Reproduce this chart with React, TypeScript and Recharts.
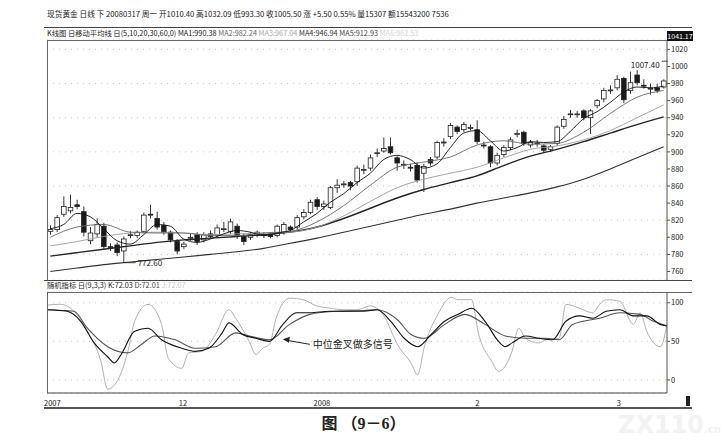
import { Bar, CartesianGrid, ComposedChart, Line, ReferenceDot, XAxis, YAxis } from 'recharts';

// daily candles (index 0 = first bar on the left)
const OPEN = [
  807, 809, 827, 831, 838, 830, 796, 804, 813, 789, 791, 784, 802.5, 802, 807, 827, 822, 814, 806, 795,
  789, 799, 803, 797, 804, 803, 809, 807, 813, 801, 800, 802, 802, 804, 802, 806, 812, 812, 824, 829,
  844, 836, 835, 858, 862, 864, 865, 879, 881, 898, 901, 906, 893, 885, 882, 884, 875, 891, 894, 911,
  918, 929, 926, 928, 926, 908, 906, 887, 897, 905, 921, 923, 908, 910, 907, 903, 910, 930, 944, 944,
  948, 940, 954, 962, 972, 975, 986, 972, 990, 978, 974, 975, 976,
];
const HIGH = [
  814, 826, 848, 850, 844, 836, 812, 822, 817, 793, 794, 801, 807, 808, 829, 838, 830, 818, 808, 798,
  795, 804, 806, 806, 808, 815, 818, 822, 816, 804, 806, 808, 806, 806, 815, 818, 814, 826, 833, 844,
  847, 843, 860, 868, 866, 866, 884, 885, 897, 904, 917, 917, 895, 890, 886, 888, 886, 894, 913, 916,
  934, 931, 935, 932, 937, 912, 908, 899, 908, 917, 926, 925, 914, 914, 909, 908, 931, 942, 949, 948,
  950, 950, 962, 975, 978, 990, 988, 994, 996, 985, 980, 980, 985,
];
const LOW = [
  803, 806, 824, 828, 833, 801, 792, 800, 786, 784, 778, 772.6, 799, 799, 805, 822, 809, 803, 794, 780,
  786, 796, 791, 794, 799, 800, 806, 804, 798, 791, 797, 800, 799, 799, 800, 803, 806, 809, 821, 827,
  832, 832, 833, 852, 858, 855, 860, 874, 878, 894, 899, 897, 878, 880, 877, 864, 853, 884, 891, 906,
  915, 921, 923, 925, 909, 904, 882, 884, 894, 902, 917, 907, 905, 906, 899, 900, 907, 927, 940, 940,
  937, 921, 951, 958, 968, 972, 957, 968, 978, 974, 967, 969, 974,
];
const CLOSE = [
  809, 823, 836, 835, 836, 806, 805, 815, 789, 788, 782, 798, 803, 806, 826, 826, 812, 806, 797, 784,
  792, 800, 795, 803, 801, 811, 810, 818, 802, 795, 803, 806, 803, 801, 813, 815, 809, 823, 829, 841,
  836, 839, 858, 861, 862.5, 860, 881, 879.5, 893, 899, 904, 899, 887, 885.5, 881, 867, 883, 887, 911, 911.5,
  931, 924, 932, 928.5, 912, 907, 887, 896, 905, 914, 921.5, 910, 911, 910.5, 902, 906, 929, 938, 944.5, 944.5,
  940, 948, 960, 972, 972.5, 985, 961, 981, 981, 977, 974.5, 972, 983,
];

// moving averages, read at sampled bars: [bar index, value]
const MA5_PTS = [
  [0, 810], [2, 815], [4, 828], [6, 824], [8, 810], [10, 796], [12, 792], [14, 803], [16, 815], [18, 813],
  [20, 798], [22, 794], [24, 798], [26, 804], [28, 808], [30, 806], [32, 802], [34, 805], [36, 808], [38, 818],
  [40, 828], [42, 841], [44, 851], [46, 864], [48, 875], [50, 891], [52, 896], [54, 891], [56, 881], [58, 886],
  [60, 905], [62, 922], [64, 925], [66, 913], [68, 901], [70, 905], [72, 912], [74, 911], [76, 912], [78, 924],
  [80, 939], [82, 947], [84, 958], [86, 970], [88, 976], [90, 975], [92, 977],
];
const MA10_PTS = [
  [0, 800], [4, 812], [8, 815], [12, 806], [16, 805], [20, 805], [24, 802], [28, 802], [32, 805], [36, 807],
  [40, 818], [44, 837], [48, 861], [52, 882], [56, 888], [60, 894], [64, 908], [68, 913], [72, 909], [76, 910],
  [80, 923], [84, 945], [88, 964], [92, 972],
];
const MA20_PTS = [
  [0, 790], [4, 795], [8, 801], [12, 805], [16, 806], [20, 805], [24, 803], [28, 804], [32, 805], [36, 806],
  [40, 812], [44, 825], [48, 842], [52, 858], [56, 868], [60, 875], [64, 882], [68, 893], [72, 903], [76, 907],
  [80, 914], [84, 925], [88, 940], [92, 955],
];
const MA30_PTS = [
  [0, 778], [4, 782], [8, 786], [12, 790], [16, 794], [20, 797], [24, 799], [28, 801], [32, 803], [36, 806],
  [40, 812], [44, 822], [48, 834], [52, 846], [56, 856], [60, 864], [64, 872], [68, 884], [72, 895], [76, 903],
  [80, 912], [84, 922], [88, 932], [92, 941],
];
const MA60_PTS = [
  [0, 760], [4, 764], [8, 768], [12, 771], [16, 774], [20, 777], [24, 780], [28, 783], [32, 787], [36, 793],
  [40, 799], [44, 806], [48, 813], [52, 820], [56, 827], [60, 833], [64, 840], [68, 846], [72, 852], [76, 859],
  [80, 868], [84, 880], [88, 893], [92, 906],
];

// stochastic (9,3,3)
const K_PTS = [
  [0, 91], [3, 89], [5, 76], [7, 48], [9, 30], [10, 22], [11, 33], [13, 63], [15, 67], [17, 52],
  [20, 41], [22, 37], [24, 41], [26, 61], [27, 74], [29, 59], [31, 54], [33, 50], [35, 72], [37, 87],
  [39, 87], [42, 89], [45, 89], [47, 89], [49, 91], [51, 76], [53, 54], [55, 43], [57, 59], [59, 76],
  [61, 85], [63, 93], [65, 76], [67, 50], [68, 43], [69, 48], [71, 57], [73, 54], [75, 52], [77, 76],
  [79, 83], [81, 80], [83, 89], [85, 91], [87, 83], [89, 83], [91, 72], [92, 70],
];
const D_PTS = [
  [0, 91], [4, 89], [6, 67], [9, 43], [12, 35], [14, 46], [16, 57], [19, 52], [22, 41], [25, 43],
  [28, 61], [30, 57], [33, 52], [36, 72], [39, 85], [43, 89], [47, 90], [49, 91], [52, 78], [54, 59],
  [56, 54], [59, 72], [62, 85], [65, 72], [68, 57], [71, 54], [74, 54], [76, 52], [78, 72], [82, 80],
  [85, 87], [88, 85], [90, 76], [92, 70],
];
const J_PTS = [
  [0, 97], [2, 98], [4, 89], [6, 63], [8, 24], [9, -12], [10, -7], [12, 37], [13, 76], [15, 98],
  [17, 72], [18, 28], [20, 15], [21, 35], [23, 37], [25, 59], [27, 91], [28, 80], [30, 50], [31, 33],
  [32, 41], [33, 46], [34, 80], [36, 106], [38, 104], [40, 96], [42, 93], [44, 91], [46, 91], [48, 96],
  [50, 83], [52, 46], [54, 22], [55, 7], [56, 43], [58, 85], [60, 107], [61, 104], [63, 104], [64, 61],
  [66, 24], [67, 11], [69, 37], [70, 67], [71, 54], [73, 48], [74, 52], [76, 54], [77, 98], [79, 93],
  [81, 87], [82, 98], [83, 104], [85, 102], [87, 72], [88, 87], [89, 63], [91, 43], [92, 72],
];

const TICK_IDX = [0, 20, 40, 64, 85];
const TICK_LABELS = ['2007', '12', '2008', '2', '3'];
const PRICE_TICKS = [760, 780, 800, 820, 840, 860, 880, 900, 920, 940, 960, 980, 1000, 1020];
const KDJ_TICKS = [0, 50, 100];

const FONT = '"Noto Sans CJK SC", "Noto Sans", sans-serif';

function sparse(points: number[][]) {
  const lookup = new Map(points.map(([i, v]) => [i, v]));
  return CLOSE.map((_, i) => (lookup.has(i) ? lookup.get(i) : null));
}

const ma5 = sparse(MA5_PTS);
const ma10 = sparse(MA10_PTS);
const ma20 = sparse(MA20_PTS);
const ma30 = sparse(MA30_PTS);
const ma60 = sparse(MA60_PTS);
const kLine = sparse(K_PTS);
const dLine = sparse(D_PTS);
const jLine = sparse(J_PTS);

const rows = CLOSE.map((close, i) => ({
  i,
  open: OPEN[i],
  high: HIGH[i],
  low: LOW[i],
  close,
  range: [LOW[i], HIGH[i]],
  ma5: ma5[i],
  ma10: ma10[i],
  ma20: ma20[i],
  ma30: ma30[i],
  ma60: ma60[i],
  k: kLine[i],
  d: dLine[i],
  j: jLine[i],
}));

const Candle = (props: any) => {
  const { x, y, width, height, payload } = props;
  if (!payload) return <g />;
  const { open, close, high, low } = payload;
  const top = Math.min(y, y + height);
  const h = Math.abs(height);
  const ppu = high === low ? 0 : h / (high - low);
  const cx = x + width / 2;
  const yOf = (v: number) => top + (high - v) * ppu;
  const bodyTop = yOf(Math.max(open, close));
  const bodyBottom = yOf(Math.min(open, close));
  const up = close >= open;
  const bw = 4.6;
  return (
    <g>
      <line x1={cx} x2={cx} y1={top} y2={top + h} stroke="#222" strokeWidth={0.9} />
      <rect
        x={cx - bw / 2}
        y={bodyTop}
        width={bw}
        height={Math.max(bodyBottom - bodyTop, 0.9)}
        fill={up ? '#fff' : '#1a1a1a'}
        stroke="#222"
        strokeWidth={0.8}
      />
    </g>
  );
};

const DateTick = (props: any) => {
  const { x, y, payload } = props;
  const k = TICK_IDX.indexOf(Number(payload.value));
  if (k < 0) return <g />;
  return (
    <text x={x - 3} y={y + 5} fontSize={7.5} fill="#222" textAnchor="start" fontFamily={FONT}>
      {TICK_LABELS[k]}
    </text>
  );
};

const LowLabel = (props: any) => {
  const { cx, cy } = props;
  return (
    <g>
      <path d={`M${cx},${cy} V${cy + 2} H${cx + 12}`} stroke="#222" strokeWidth={0.8} fill="none" />
      <text x={cx + 14} y={cy + 5} fontSize={8} fill="#222" fontFamily={FONT}>
        772.60
      </text>
    </g>
  );
};

const HighLabel = (props: any) => {
  const { cx, cy } = props;
  return (
    <g>
      <line x1={cx - 2} x2={cx + 4} y1={cy + 1} y2={cy + 1} stroke="#222" strokeWidth={0.8} />
      <text x={cx - 4} y={cy + 8} fontSize={8} fill="#222" textAnchor="end" fontFamily={FONT}>
        1007.40
      </text>
    </g>
  );
};

const CrossNote = (props: any) => {
  const { cx, cy } = props;
  return (
    <g>
      <line x1={cx + 4} y1={cy - 1} x2={cx + 27} y2={cy + 3} stroke="#222" strokeWidth={1} />
      <path d={`M${cx},${cy - 2} L${cx + 7},${cy - 4.5} L${cx + 6},${cy + 1.5} Z`} fill="#222" />
      <text x={cx + 30} y={cy + 7} fontSize={10} fill="#222" fontFamily={FONT}>
        中位金叉做多信号
      </text>
    </g>
  );
};

const hLine = (top: number, left: number, width: number, color = '#555', h = 1) => (
  <div style={{ position: 'absolute', top, left, width, height: h, background: color }} />
);

export default function App() {
  return (
    <div
      style={{
        position: 'relative',
        width: 727,
        height: 444,
        background: '#fff',
        overflow: 'hidden',
        fontFamily: FONT,
        color: '#222',
      }}
    >
      <style>{'body{margin:0}'}</style>

      <div style={{ position: 'absolute', top: 10, left: 47, fontSize: 7.7, whiteSpace: 'nowrap', lineHeight: 1 }}>
        现货黄金 日线 下 20080317 周一 开1010.40 高1032.09 低993.30 收1005.50 涨 +5.50 0.55% 量15307 额15543200 7536
      </div>

      {hLine(27, 44, 648, '#444', 1)}
      <div style={{ position: 'absolute', top: 30, left: 47, fontSize: 7.3, whiteSpace: 'nowrap', lineHeight: 1 }}>
        <span>K线图 日移动平均线 日(5,10,20,30,60,0) </span>
        <span>MA1:990.38 </span>
        <span style={{ color: '#666' }}>MA2:982.24 </span>
        <span style={{ color: '#aaa' }}>MA3:967.04 </span>
        <span style={{ color: '#333' }}>MA4:946.94 </span>
        <span style={{ color: '#444' }}>MA5:912.93 </span>
        <span style={{ color: '#d4d4d4' }}>MA6:962.53</span>
      </div>

      <div style={{ position: 'absolute', top: 0, left: 0 }}>
        <ComposedChart width={727} height={282} data={rows} margin={{ top: 40, right: 0, bottom: 2, left: 47 }}>
          <CartesianGrid vertical={false} stroke="#c8c8c8" strokeDasharray="1 5" />
          <XAxis dataKey="i" type="category" hide />
          <YAxis
            orientation="right"
            width={60}
            domain={[750, 1031]}
            ticks={PRICE_TICKS}
            allowDataOverflow
            tick={{ fontSize: 7.5, fill: '#222', fontFamily: FONT }}
            tickSize={3}
            tickMargin={1}
            axisLine={{ stroke: '#555' }}
            tickLine={{ stroke: '#555' }}
          />
          <Line dataKey="ma60" type="monotone" stroke="#333" strokeWidth={1.1} dot={false} connectNulls isAnimationActive={false} />
          <Line dataKey="ma30" type="monotone" stroke="#262626" strokeWidth={1.4} dot={false} connectNulls isAnimationActive={false} />
          <Line dataKey="ma20" type="monotone" stroke="#9c9c9c" strokeWidth={0.9} dot={false} connectNulls isAnimationActive={false} />
          <Line dataKey="ma10" type="monotone" stroke="#6a6a6a" strokeWidth={0.9} dot={false} connectNulls isAnimationActive={false} />
          <Line dataKey="ma5" type="monotone" stroke="#111" strokeWidth={0.9} dot={false} connectNulls isAnimationActive={false} />
          <Bar dataKey="range" barSize={5} shape={<Candle />} isAnimationActive={false} />
          <ReferenceDot x={11} y={772.6} r={0} shape={<LowLabel />} ifOverflow="visible" />
          <ReferenceDot x={92} y={1007.4} r={0} shape={<HighLabel />} ifOverflow="visible" />
        </ComposedChart>
      </div>

      {/* panel frame for the price pane */}
      {hLine(40, 47, 645, '#666')}
      {hLine(280, 44, 648, '#444')}
      <div style={{ position: 'absolute', top: 40, left: 47, width: 1, height: 240, background: '#666' }} />
      <div
        style={{
          position: 'absolute',
          top: 31,
          left: 667,
          width: 26,
          height: 10,
          background: '#111',
          color: '#fff',
          fontSize: 7,
          lineHeight: '10px',
          textAlign: 'center',
          whiteSpace: 'nowrap',
        }}
      >
        1041.17
      </div>

      <div style={{ position: 'absolute', top: 282, left: 47, fontSize: 7.3, whiteSpace: 'nowrap', lineHeight: 1 }}>
        <span>随机指标 日(9,3,3) K:72.03 </span>
        <span style={{ color: '#444' }}>D:72.01 </span>
        <span style={{ color: '#c8c8c8' }}>J:72.07</span>
      </div>

      <div style={{ position: 'absolute', top: 290, left: 0 }}>
        <ComposedChart width={727} height={117} data={rows} margin={{ top: 2, right: 0, bottom: 0, left: 47 }}>
          <CartesianGrid vertical={false} stroke="#c8c8c8" strokeDasharray="1 5" />
          <XAxis
            dataKey="i"
            type="category"
            interval={0}
            height={14}
            tick={<DateTick />}
            tickLine={false}
            axisLine={{ stroke: '#444' }}
          />
          <YAxis
            orientation="right"
            width={60}
            domain={[-17, 114]}
            ticks={KDJ_TICKS}
            allowDataOverflow
            tick={{ fontSize: 7.5, fill: '#222', fontFamily: FONT }}
            tickSize={3}
            tickMargin={1}
            axisLine={{ stroke: '#555' }}
            tickLine={{ stroke: '#555' }}
          />
          <Line dataKey="j" type="monotone" stroke="#a8a8a8" strokeWidth={0.9} dot={false} connectNulls isAnimationActive={false} />
          <Line dataKey="d" type="monotone" stroke="#555" strokeWidth={1.1} dot={false} connectNulls isAnimationActive={false} />
          <Line dataKey="k" type="monotone" stroke="#111" strokeWidth={1.1} dot={false} connectNulls isAnimationActive={false} />
          <ReferenceDot x={35} y={50} r={0} shape={<CrossNote />} ifOverflow="visible" />
        </ComposedChart>
      </div>

      {/* frame for the stochastic pane */}
      {hLine(292, 47, 645, '#666')}
      <div style={{ position: 'absolute', top: 292, left: 47, width: 1, height: 101, background: '#666' }} />
      {hLine(407, 44, 648, '#555', 2)}
      <div style={{ position: 'absolute', top: 396, left: 686, width: 4, height: 10, background: '#222' }} />

      <div
        style={{
          position: 'absolute',
          top: 416,
          left: 0,
          width: 727,
          textAlign: 'center',
          fontSize: 16,
          fontWeight: 'bold',
          fontFamily: '"Liberation Serif", "Noto Sans CJK SC", serif',
          lineHeight: 1,
        }}
      >
        图 （9－6）
      </div>
      <div
        style={{
          position: 'absolute',
          top: 413,
          left: 618,
          fontSize: 24,
          fontWeight: 'bold',
          color: '#f2f2f2',
          fontFamily: '"DejaVu Sans", sans-serif',
          lineHeight: 1,
          whiteSpace: 'nowrap',
        }}
      >
        ZX110<span style={{ fontSize: 10 }}>.cn</span>
      </div>
    </div>
  );
}
